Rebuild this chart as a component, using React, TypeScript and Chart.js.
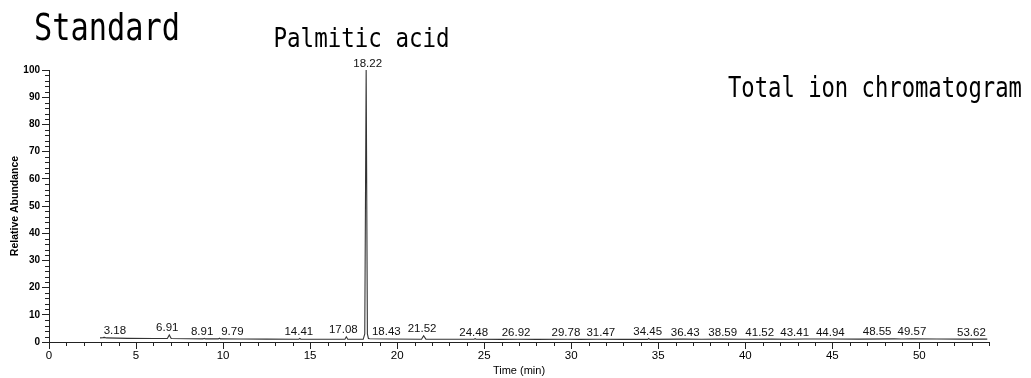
import React, { useEffect, useRef } from "react";
import { Chart, registerables } from "chart.js";

Chart.register(...registerables);

// Total ion chromatogram trace (retention time in min, relative abundance in %)
const TRACE_TIME = [
  2.93, 3.1, 3.18, 3.3, 4.5, 6.0, 6.8, 6.91, 7.02, 8.0, 8.85, 8.91, 8.97, 9.73, 9.79, 9.85,
  11.0, 12.5, 14.35, 14.41, 14.47, 16.0, 17.0, 17.08, 17.16, 18.05, 18.14, 18.22,
  18.29, 18.35, 18.43, 19.5, 21.4, 21.52, 21.65, 23.0, 24.42, 24.48, 24.54, 26.0,
  26.92, 28.0, 29.78, 30.5, 31.47, 33.0, 34.4, 34.45, 34.52, 36.43, 37.5, 38.59, 40.0,
  41.52, 42.5, 43.41, 44.94, 46.5, 48.55, 49.0, 49.57, 51.0, 52.5, 53.62, 53.9,
];
const TRACE_ABUND = [
  1.5, 1.6, 1.7, 1.5, 1.35, 1.3, 1.3, 2.6, 1.3, 1.2, 1.15, 1.35, 1.15, 1.15, 1.4, 1.15,
  1.1, 1.05, 1.0, 1.3, 1.0, 1.0, 1.0, 1.9, 1.0, 1.0, 3.0, 100,
  3.0, 1.3, 1.2, 1.1, 1.0, 2.3, 1.05, 1.0, 1.0, 1.2, 1.0, 0.95,
  1.0, 0.95, 1.0, 0.95, 1.0, 0.95, 0.95, 1.3, 0.95, 1.05, 1.0, 1.05, 1.0,
  1.05, 1.0, 1.1, 1.1, 1.05, 1.15, 1.1, 1.2, 1.1, 1.05, 1.1, 1.05,
];

// Labelled peaks
const PEAK_TIMES = [
  3.18, 6.91, 8.91, 9.79, 14.41, 17.08, 18.22, 18.43, 21.52, 24.48, 26.92, 29.78, 31.47,
  34.45, 36.43, 38.59, 41.52, 43.41, 44.94, 48.55, 49.57, 53.62,
];
const PEAK_HEIGHTS = [
  1.7, 2.6, 1.35, 1.4, 1.3, 1.9, 100, 1.2, 2.3, 1.0, 0.9, 0.9, 0.9,
  1.3, 1.05, 1.05, 1.05, 1.1, 1.1, 1.15, 1.2, 1.1,
];
// horizontal nudges of the peak labels (px), as in the instrument printout
const PEAK_LABEL_NUDGE = [
  10.5, -2, -2, 13, -1, -3, 1.5, 16.5, -1.5, -1.5, -1.5, -1.5, 4,
  -1, 2, 2, -12, -10, -1, -17, 0, -11,
];

const X_MIN = 0;
const X_MAX = 54;
const Y_MIN = 0;
const Y_MAX = 100;

const FONT = "'Liberation Sans', Arial, sans-serif";
const MONO = "'DejaVu Sans Mono', monospace";
const INK = "#000";

const annotationPlugin = {
  id: "chromAnnotations",
  afterDraw(chart: any) {
    const ctx = chart.ctx as CanvasRenderingContext2D;
    const xs = chart.scales.x;
    const ys = chart.scales.y;
    const area = chart.chartArea;

    // minor ticks
    ctx.save();
    ctx.strokeStyle = "#222";
    ctx.lineWidth = 1;
    ctx.beginPath();
    for (let t = X_MIN + 1; t <= X_MAX; t++) {
      if (t % 5 === 0) continue;
      const px = Math.round(xs.getPixelForValue(t)) + 0.5;
      ctx.moveTo(px, area.bottom);
      ctx.lineTo(px, area.bottom + 4);
    }
    for (let v = Y_MIN + 2; v < Y_MAX; v += 2) {
      if (v % 10 === 0) continue;
      const py = Math.round(ys.getPixelForValue(v)) + 0.5;
      ctx.moveTo(area.left - 4, py);
      ctx.lineTo(area.left, py);
    }
    ctx.stroke();
    ctx.restore();

    // peak labels
    ctx.save();
    ctx.fillStyle = "#111";
    ctx.font = `11.5px ${FONT}`;
    ctx.textAlign = "center";
    ctx.textBaseline = "alphabetic";
    PEAK_TIMES.forEach((t, i) => {
      const px = xs.getPixelForValue(t) + PEAK_LABEL_NUDGE[i];
      const py = ys.getPixelForValue(PEAK_HEIGHTS[i]) - 3.5;
      ctx.fillText(t.toFixed(2), px, py);
    });
    ctx.restore();

    // headline texts (tall, narrow gothic-like lettering)
    const drawTall = (text: string, x: number, y: number, size: number, sy: number) => {
      ctx.save();
      ctx.fillStyle = "#000";
      ctx.font = `${size}px ${MONO}`;
      ctx.textAlign = "left";
      ctx.textBaseline = "alphabetic";
      ctx.translate(x, y);
      ctx.scale(1, sy);
      ctx.fillText(text, 0, 0);
      ctx.restore();
    };
    drawTall("Standard", 34, 39.5, 30.3, 1.22);
    drawTall("Palmitic acid", 273.5, 47, 22.5, 1.2);
    drawTall("Total ion chromatogram", 728, 96.5, 22.2, 1.25);
  },
};

export default function App() {
  const canvasRef = useRef<HTMLCanvasElement | null>(null);

  useEffect(() => {
    const canvas = canvasRef.current;
    if (!canvas) return;
    const points = TRACE_TIME.map((t, i) => ({ x: t, y: TRACE_ABUND[i] }));
    const chart = new Chart(canvas, {
      type: "line",
      data: {
        datasets: [
          {
            label: "TIC",
            data: points,
            borderColor: "#333",
            borderWidth: 1.1,
            pointRadius: 0,
            tension: 0,
            fill: false,
          },
        ],
      },
      options: {
        responsive: false,
        animation: false,
        devicePixelRatio: 1,
        layout: { padding: { left: 0, top: 70, right: 42, bottom: 0 } },
        plugins: {
          legend: { display: false },
          tooltip: { enabled: false },
          title: { display: false },
        },
        scales: {
          x: {
            type: "linear",
            min: X_MIN,
            max: X_MAX,
            afterFit: (s: any) => {
              s.height = 36;
            },
            ticks: {
              stepSize: 5,
              includeBounds: false,
              autoSkip: false,
              maxRotation: 0,
              padding: 0,
              color: INK,
              font: { family: FONT, size: 11.5 },
            },
            grid: {
              drawOnChartArea: false,
              drawTicks: true,
              tickLength: 7,
              color: "#222",
              tickColor: "#222",
            },
            border: { display: true, color: "#222", width: 1 },
            title: {
              display: true,
              text: "Time (min)",
              color: INK,
              font: { family: FONT, size: 11 },
              padding: { top: 0, bottom: 0 },
            },
          },
          y: {
            type: "linear",
            min: Y_MIN,
            max: Y_MAX,
            afterFit: (s: any) => {
              s.width = 49;
            },
            ticks: {
              stepSize: 10,
              autoSkip: false,
              padding: 2,
              color: INK,
              font: { family: FONT, size: 10, weight: "bold" },
            },
            grid: {
              drawOnChartArea: false,
              drawTicks: true,
              tickLength: 7,
              color: "#222",
              tickColor: "#222",
            },
            border: { display: true, color: "#222", width: 1 },
            title: {
              display: true,
              text: "Relative Abundance",
              color: INK,
              font: { family: FONT, size: 10.5, weight: "bold" },
              padding: { top: 9, bottom: 0 },
            },
          },
        },
      },
      plugins: [annotationPlugin],
    } as any);
    return () => chart.destroy();
  }, []);

  return (
    <div
      style={{
        position: "absolute",
        left: 0,
        top: 0,
        width: 1031,
        height: 378,
        background: "#fff",
      }}
    >
      <canvas ref={canvasRef} width={1031} height={378} style={{ display: "block" }} />
    </div>
  );
}
